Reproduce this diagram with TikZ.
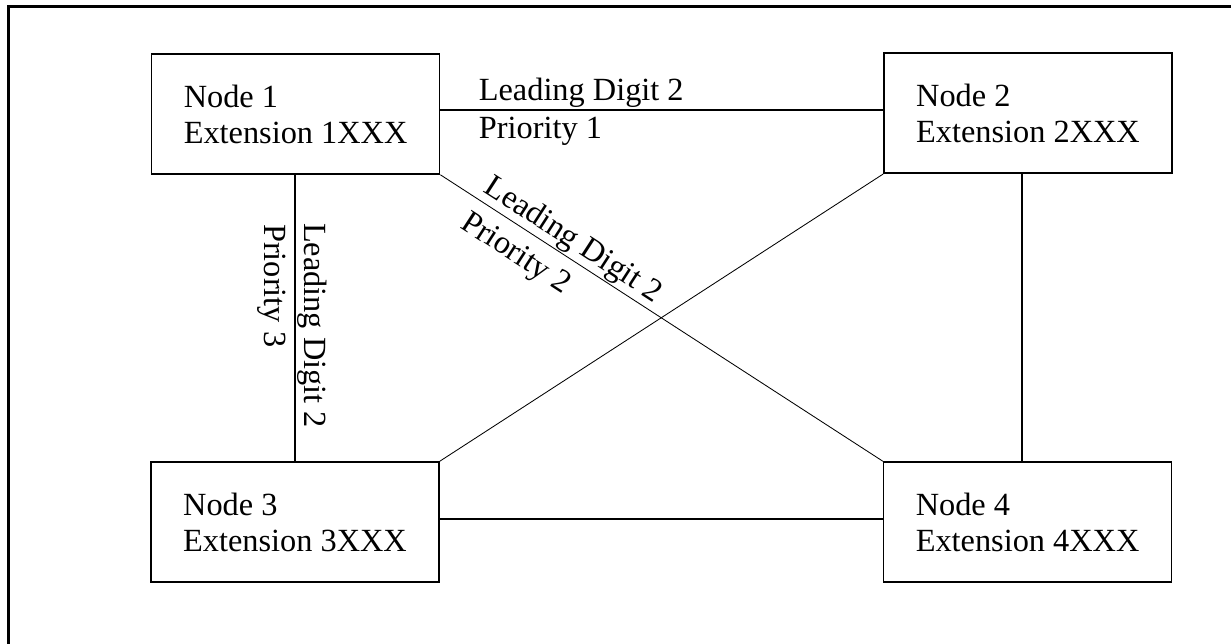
\documentclass[tikz,border=0pt]{standalone}
\usepackage{fontspec}
\setmainfont{Liberation Serif}
\usepackage{tikz}
\usetikzlibrary{shapes,positioning,calc}
\tikzstyle{extbox}   = [draw, line width=1.1pt, minimum width=7.2cm, minimum height=3cm, align=left, inner sep=0pt]
\tikzstyle{link}     = [line width=1.1pt]
\tikzstyle{thinlink} = [line width=0.6pt]
\tikzstyle{tag}      = [sloped, allow upside down, inner sep=1pt]

\begin{document}
\begin{tikzpicture}[font=\fontsize{23pt}{25.6pt}\selectfont]
        \useasboundingbox (0,0) rectangle (30.775,-16.075);
        \draw[line width=2.1pt] (0.21,-0.17) rectangle (31.5,-17);

        \node[extbox] (n1) at (7.39,-2.85)  {Node 1\\Extension 1XXX};
        \node[extbox] (n2) at (25.70,-2.83) {Node 2\\Extension 2XXX};
        \node[extbox] (n3) at (7.375,-13.05) {Node 3\\Extension 3XXX};
        \node[extbox] (n4) at (25.69,-13.05) {Node 4\\Extension 4XXX};

        % node 1 -- node 2
        \coordinate (h1) at ([yshift=0.1cm]n1.east);
        \draw[link] (h1) --
            node[tag, pos=0.082, anchor=south west] (l12) {Leading Digit 2}
            node[tag, pos=0.082, anchor=north west, inner ysep=0.16cm] (p12) {Priority 1}
            (h1 -| n2.west);

        % node 1 -- node 3
        \draw[link] (n3.north |- n1.south) --
            node[tag, pos=0.161, anchor=south west] (l13) {Leading Digit 2}
            node[tag, pos=0.165, anchor=north west, inner ysep=0.2cm] (p13) {Priority 3}
            (n3.north);

        % node 1 -- node 4
        \draw[thinlink] (n1.south east) --
            node[tag, pos=0.081, anchor=south west] (l14) {Leading Digit 2}
            node[tag, pos=0.081, anchor=north west, inner ysep=0.3cm] (p14) {Priority 2}
            (n4.north west);

        % the other links
        \draw[thinlink] (n2.south west) -- (n3.north east);
        \coordinate (v2) at ([xshift=-0.15cm]n2.south);
        \draw[link] (v2) -- (v2 |- n4.north);
        \coordinate (h3) at ([yshift=0.075cm]n3.east);
        \draw[link] (h3) -- (h3 -| n4.west);
    \end{tikzpicture}
\end{document}
